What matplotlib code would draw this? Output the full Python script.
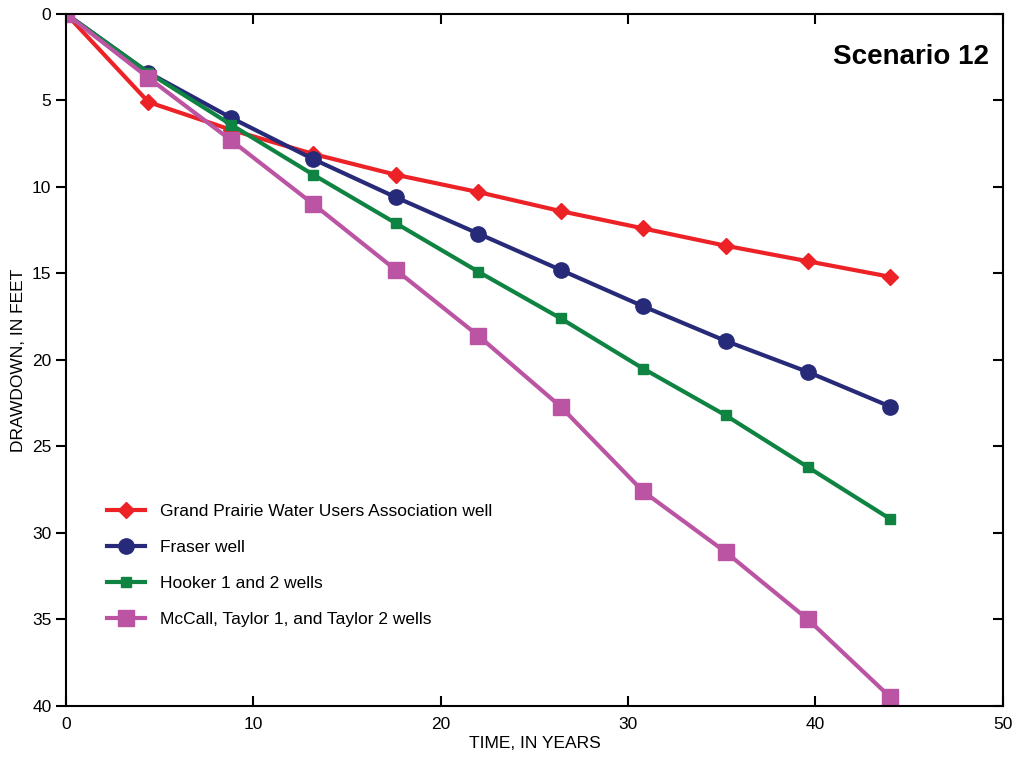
import matplotlib
matplotlib.use("Agg")
import matplotlib.pyplot as plt

plt.rcParams['font.family'] = ['Liberation Sans', 'DejaVu Sans']

years = [0, 4.4, 8.8, 13.2, 17.6, 22, 26.4, 30.8, 35.2, 39.6, 44]
grand_prairie = [0, 5.1, 6.7, 8.1, 9.3, 10.3, 11.4, 12.4, 13.4, 14.3, 15.2]
fraser = [0, 3.4, 6.0, 8.4, 10.6, 12.7, 14.8, 16.9, 18.9, 20.7, 22.7]
hooker = [0, 3.4, 6.4, 9.3, 12.1, 14.9, 17.6, 20.5, 23.2, 26.2, 29.2]
mccall = [0, 3.7, 7.3, 11.0, 14.8, 18.6, 22.7, 27.6, 31.1, 35.0, 39.5]

fig = plt.figure(figsize=(10.16, 7.69), dpi=100)
ax = fig.add_axes([0.065, 0.082, 0.922, 0.9])

ax.plot(years, grand_prairie, color='#ec2227', lw=3, marker='D', ms=8,
        label='Grand Prairie Water Users Association well')
ax.plot(years, fraser, color='#262a78', lw=3, marker='o', ms=11,
        label='Fraser well')
ax.plot(years, hooker, color='#0f8442', lw=3, marker='s', ms=7,
        label='Hooker 1 and 2 wells')
ax.plot(years, mccall, color='#bb55a3', lw=3, marker='s', ms=11,
        label='McCall, Taylor 1, and Taylor 2 wells')

ax.set_xlim(0, 50)
ax.set_ylim(40, 0)
ax.set_xticks([0, 10, 20, 30, 40, 50])
ax.set_yticks([0, 5, 10, 15, 20, 25, 30, 35, 40])
ax.tick_params(axis='x', direction='in', top=True, length=7, width=1.5,
               labelsize=12.5, pad=8)
ax.tick_params(axis='y', direction='out', length=7, width=1.5, labelsize=12.5)
ax.tick_params(axis='y', which='both', right=True)
for t in ax.yaxis.get_ticklines()[1::2]:
    t.set_marker(0)
for sp in ax.spines.values():
    sp.set_linewidth(1.5)

ax.set_xlabel('TIME, IN YEARS', fontsize=12.5, labelpad=3)
ax.set_ylabel('DRAWDOWN, IN FEET', fontsize=12.5, labelpad=4)

ax.text(0.985, 0.938, 'Scenario 12', transform=ax.transAxes, ha='right',
        va='center', fontsize=20, fontweight='bold')

ax.legend(loc='upper left', bbox_to_anchor=(0.027, 0.314), frameon=False,
          fontsize=12.5, handlelength=2.2, labelspacing=1.2, handletextpad=0.85)

fig.savefig('out.png', dpi=100)
